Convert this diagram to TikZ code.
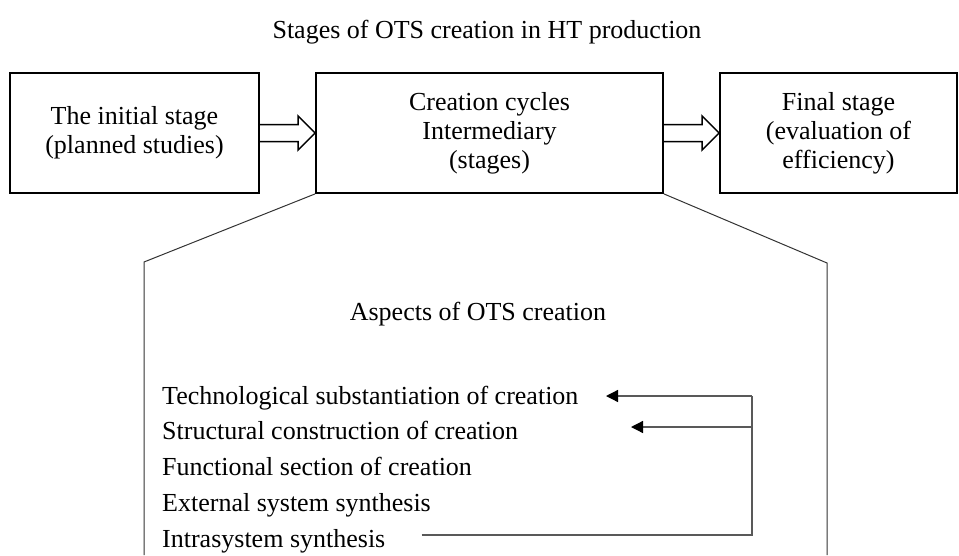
\documentclass[tikz,border=0pt]{standalone}
\usepackage{fontspec}
\setmainfont{Liberation Serif}
\usetikzlibrary{arrows.meta,calc}

\tikzset{
  stagebox/.style={draw, line width=1.8pt, align=center, minimum height=120pt, inner sep=0pt,
    font=\fontsize{26}{29}\selectfont},
  txt/.style={font=\fontsize{26}{27}\selectfont, inner sep=0pt},
  fanline/.style={line width=1pt, draw=black!80},
  loopline/.style={line width=1.3pt, draw=black!65},
  looptip/.style={-{Triangle[length=12pt, width=12pt, color=black]}},
}

\begin{document}
\begin{tikzpicture}[x=1pt, y=-1pt]
  \useasboundingbox (0,0) rectangle (959,555);
  % заголовок
  \node[txt, anchor=base] (title) at (487,38) {Stages of OTS creation in HT production};
  % этапы
  \node[stagebox, minimum width=249pt] (initial) at (134.5,133) {The initial stage\\(planned studies)};
  \node[stagebox, minimum width=347pt] (cycles) at (489.5,133) {Creation cycles\\Intermediary\\(stages)};
  \node[stagebox, minimum width=237pt] (final) at (838.5,133) {Final stage\\(evaluation of\\efficiency)};
  % полые стрелки
  \foreach \a/\b in {initial/cycles, cycles/final} {
    \draw[line width=1.5pt, line join=miter]
      ($(\a.east)+(0,-8.5)$) -- ($(\b.west)+(-17,-8.5)$) -- ($(\b.west)+(-17,-17)$)
      -- (\b.west) -- ($(\b.west)+(-17,17)$) -- ($(\b.west)+(-17,8.5)$) -- ($(\a.east)+(0,8.5)$);
  }
  % раскрытие промежуточного этапа
  \coordinate (fanL) at (144,262);
  \coordinate (fanR) at (827,263);
  \draw[fanline] (cycles.south west) -- (fanL) -- (144,555);
  \draw[fanline] (cycles.south east) -- (fanR) -- (827,555);
  \node[txt, anchor=base] (aspects) at (478,320) {Aspects of OTS creation};
  % аспекты
  \foreach \t [count=\i] in {Technological substantiation of creation,
      Structural construction of creation, Functional section of creation,
      External system synthesis, Intrasystem synthesis}
    \node[txt, anchor=base west] (asp\i) at (162,{404+35.75*(\i-1)}) {\t};
  % обратная связь
  \coordinate (railT) at (752,396);
  \coordinate (railM) at (752,427);
  \coordinate (railB) at (752,535);
  \coordinate (tipT) at (606,396);
  \coordinate (tipM) at (631,427);
  \coordinate (loopS) at ($(asp5.east)+(36,0)$);
  \draw[loopline] (loopS |- railB) -- (railB) -- (railT);
  \draw[loopline, looptip] (railT) -- (tipT);
  \draw[loopline, looptip] (railM) -- (tipM);
\end{tikzpicture}
\end{document}
